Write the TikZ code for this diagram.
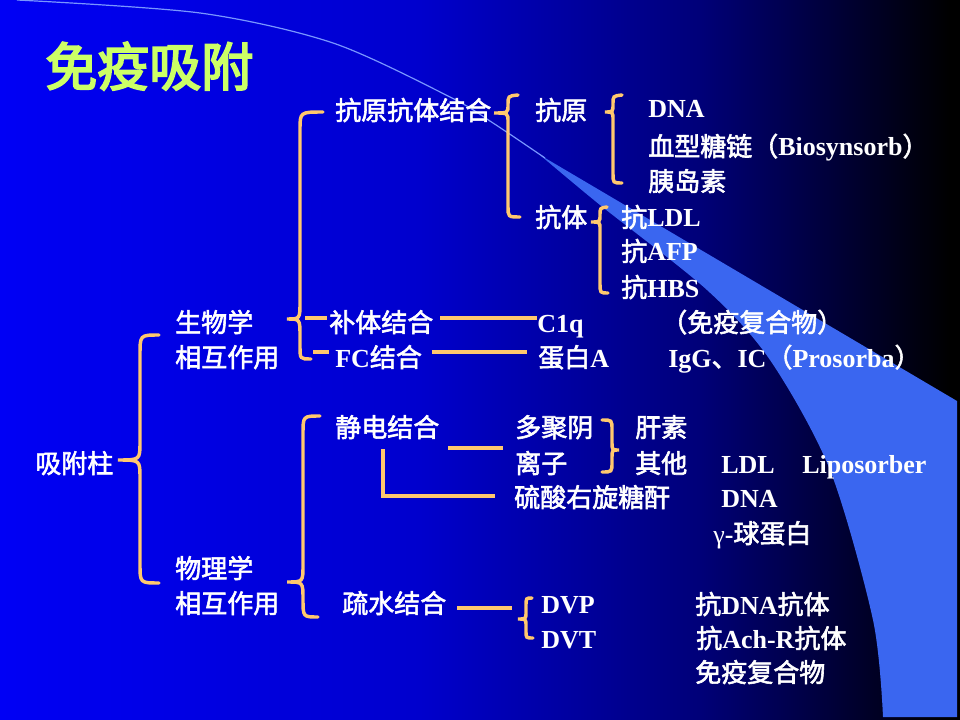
\documentclass[tikz,border=0pt]{standalone}
\usepackage{fontspec}
\setmainfont{Liberation Serif}
\newfontfamily\cjk{Noto Sans CJK SC}[FakeBold=2.2]
\newfontfamily\cjkt{Noto Sans CJK SC}[FakeBold=3.5]
\newcommand\zh[1]{{\mdseries\cjk #1}}
\definecolor{brc}{RGB}{255,200,110}
\definecolor{ttl}{RGB}{204,255,102}
\definecolor{wedgec}{RGB}{58,102,240}
\definecolor{thinc}{RGB}{120,150,255}
\definecolor{bgA}{RGB}{0,0,245}
\definecolor{bgB}{RGB}{0,0,205}
\definecolor{bgC}{RGB}{0,0,120}
\tikzset{
  txt/.style={anchor=base west, inner sep=0pt, text=white,
    font=\fontsize{19.5pt}{23pt}\selectfont\bfseries},
  conn/.style={draw=brc, line width=2.6pt},
  bracel/.style={draw=brc, line width=2.6pt, line cap=round}
}
\begin{document}
\begin{tikzpicture}[x=0.75pt,y=-0.75pt]
\useasboundingbox (0,0) rectangle (960,720);
% background
\shade[left color=bgA, right color=bgB] (0,0) rectangle (421,720);
\shade[left color=bgB, right color=bgC] (420,0) rectangle (701,720);
\shade[left color=bgC, right color=black] (700,0) rectangle (950,720);
\fill[black] (949,0) rectangle (960,720);
% wedge
\fill[wedgec] (540,155) -- (957,401) -- (957,717) -- (883,717) -- plot[smooth] coordinates {(883,717) (873,620) (830,470) (770,360) (707,290) (600,205) (540,155)} -- cycle;
\draw[thinc, line width=0.9pt] plot[smooth] coordinates {(17,0) (200,13) (333,43) (450,97) (493,123) (545,158)};
% title
\node[anchor=base west, inner sep=0pt, text=ttl, font=\fontsize{39pt}{44pt}\selectfont] (title) at (45,86) {\cjkt 免疫吸附};
% texts
\node[txt] (root) at (35,473) {\zh{吸附柱}};
\node[txt] (bio1) at (175,332) {\zh{生物学}};
\node[txt] (bio2) at (175,367) {\zh{相互作用}};
\node[txt] (phy1) at (175,578) {\zh{物理学}};
\node[txt] (phy2) at (175,613) {\zh{相互作用}};
\node[txt] (kyktjh) at (335,120) {\zh{抗原抗体结合}};
\node[txt] (ky) at (535,120) {\zh{抗原}};
\node[txt] (dnaa) at (648,118) {DNA};
\node[txt] (xx) at (648,156) {\zh{血型糖链（}Biosynsorb\zh{）}};
\node[txt] (yds) at (648,191) {\zh{胰岛素}};
\node[txt] (kt) at (535,227) {\zh{抗体}};
\node[txt] (kldl) at (621,227) {\zh{抗}LDL};
\node[txt] (kafp) at (621,261) {\zh{抗}AFP};
\node[txt] (khbs) at (621,297) {\zh{抗}HBS};
\node[txt] (bt) at (329,332) {\zh{补体结合}};
\node[txt] (fc) at (335,367) {FC\zh{结合}};
\node[txt] (c1q) at (537,332) {C1q};
\node[txt] (myfh) at (661,332) {\zh{（免疫复合物）}};
\node[txt] (dba) at (538,367) {\zh{蛋白}A};
\node[txt] (igg) at (668,367) {IgG\zh{、}IC\zh{（}Prosorba\zh{）}};
\node[txt] (jd) at (335,437) {\zh{静电结合}};
\node[txt] (dj) at (515,437) {\zh{多聚阴}};
\node[txt] (lz) at (515,473) {\zh{离子}};
\node[txt] (gs) at (635,437) {\zh{肝素}};
\node[txt] (qt) at (635,473) {\zh{其他}};
\node[txt] (ldl) at (721,473) {LDL};
\node[txt] (lipo) at (802,473) {Liposorber};
\node[txt] (lsy) at (514,507) {\zh{硫酸右旋糖酐}};
\node[txt] (dnab) at (721,507) {DNA};
\node[txt] (gam) at (713,543) {{\mdseries γ}-\zh{球蛋白}};
\node[txt] (ss) at (342,613) {\zh{疏水结合}};
\node[txt] (dvp) at (541,613) {DVP};
\node[txt] (dvt) at (541,648) {DVT};
\node[txt] (kdna) at (695,614) {\zh{抗}DNA\zh{抗体}};
\node[txt] (kach) at (696,648) {\zh{抗}Ach-R\zh{抗体}};
\node[txt] (myfhb) at (695,682) {\zh{免疫复合物}};
% braces
\draw[bracel] (159,335) .. controls (140,335) .. (140,355) -- (140,442) .. controls (140,460) .. (118,460) .. controls (140,460) .. (140,478) -- (140,564) .. controls (140,583) .. (159,583);
\draw[bracel] (323,112) .. controls (300,112) .. (300,130) -- (300,302) .. controls (300,319) .. (287,319) .. controls (300,319) .. (300,336) -- (300,346) .. controls (300,359) .. (311,359);
\draw[bracel] (320,416) .. controls (303,416) .. (303,434) -- (303,565) .. controls (303,582) .. (287,582) .. controls (303,582) .. (303,599) .. controls (303,617) .. (318,617);
\draw[bracel] (518,95) .. controls (508,96) .. (508,105) .. controls (508,113) .. (494,113) .. controls (508,113) .. (508,122) -- (508,206) .. controls (508,217) .. (520,217);
\draw[bracel] (622,95) .. controls (613,96) .. (613,104) .. controls (613,112) .. (605,112) .. controls (613,112) .. (613,120) -- (613,173) .. controls (613,183) .. (622,183);
\draw[bracel] (607,207) .. controls (600,208) .. (600,215) .. controls (600,222) .. (591,222) .. controls (600,222) .. (600,229) -- (600,283) .. controls (600,293) .. (608,293);
\draw[bracel] (602,420) .. controls (612,420) .. (612,430) -- (612,442) .. controls (612,450) .. (619,450) .. controls (612,450) .. (612,458) -- (612,462) .. controls (612,472) .. (602,472);
\draw[bracel] (532,598) .. controls (526,598) .. (526,606) -- (526,612) .. controls (526,619) .. (518,619) .. controls (526,619) .. (526,626) -- (526,631) .. controls (526,638) .. (533,638);
% connectors
\coordinate (btl) at (305,318);
\coordinate (btr) at (327,318);
\coordinate (fcl) at (313,352);
\coordinate (fcr) at (329,352);
\draw[conn] (btl) -- (btr);
\draw[conn] (fcl) -- (fcr);
\draw[conn] ([xshift=5pt]bt.east |- 0,318) -- (c1q.west |- 0,318);
\draw[conn] ([xshift=7pt]fc.east |- 0,352) -- ([xshift=-8pt]dba.west |- 0,352);
\coordinate (jda) at (448,448);
\coordinate (jdb) at (503,448);
\coordinate (jdc) at (383,449);
\coordinate (jdd) at (383,496);
\coordinate (jde) at (495,496);
\draw[conn] (jda) -- (jdb);
\draw[conn] (jdc) -- (jdd) -- (jde);
\coordinate (ssa) at (457,608);
\coordinate (ssb) at (512,608);
\draw[conn] (ssa) -- (ssb);
\end{tikzpicture}
\end{document}
